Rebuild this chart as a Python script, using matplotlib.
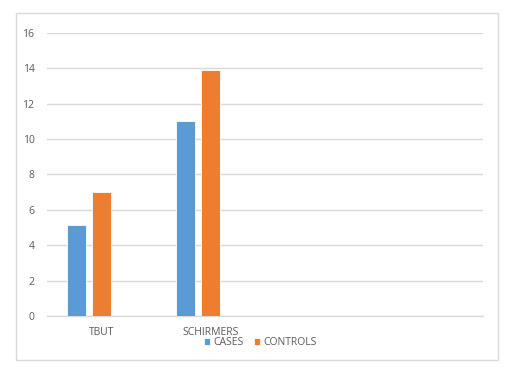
import matplotlib.pyplot as plt
import numpy as np
from matplotlib.patches import Rectangle

categories = ["TBUT", "SCHIRMERS", "", ""]
cases = [5.15, 11.0]
controls = [7.0, 13.9]
y_ticks = [0, 2, 4, 6, 8, 10, 12, 14, 16]

BLUE = "#5B9BD5"
ORANGE = "#ED7D31"
GRID = "#D9D9D9"
TEXT = "#595959"

plt.rcParams["font.family"] = ["Open Sans", "DejaVu Sans"]

fig = plt.figure(figsize=(5.15, 3.77), dpi=100)
fig.patch.set_facecolor("white")

# chart frame (Excel style border)
fig.patches.append(Rectangle((16 / 515, 1 - 360 / 377), 482 / 515, 347 / 377,
                             transform=fig.transFigure, fill=False,
                             edgecolor=GRID, linewidth=1.0))

ax = fig.add_axes([47 / 515, 1 - 316 / 377, 436 / 515, 283 / 377])

x = np.arange(len(categories))
width = 0.174
# three slots per group, third slot is empty in the source chart
offsets = [-0.229, 0.0]

ax.bar(x[:len(cases)] + offsets[0], cases, width, color=BLUE,
       edgecolor="white", linewidth=0.6, label="CASES", zorder=3)
ax.bar(x[:len(controls)] + offsets[1], controls, width, color=ORANGE,
       edgecolor="white", linewidth=0.6, label="CONTROLS", zorder=3)

ax.set_xlim(-0.5, len(categories) - 0.5)
ax.set_ylim(0, 16)
ax.set_yticks(y_ticks)
ax.set_xticks(x)
ax.set_xticklabels(categories)

ax.grid(axis="y", color=GRID, linewidth=1.0, zorder=0)
ax.set_axisbelow(True)
for side in ["top", "right", "left"]:
    ax.spines[side].set_visible(False)
ax.spines["bottom"].set_color(GRID)
ax.spines["bottom"].set_linewidth(1.0)

ax.tick_params(axis="y", length=0, pad=9, labelsize=7.5, labelcolor=TEXT)
ax.tick_params(axis="x", length=0, pad=8, labelsize=7.5, labelcolor=TEXT)

fig.legend(loc="center", bbox_to_anchor=(0.505, 1 - 342.5 / 377), ncol=2,
           frameon=False, fontsize=7.5, labelcolor=TEXT, handlelength=0.6,
           handleheight=0.6, handletextpad=0.3, columnspacing=1.0,
           borderpad=0)

fig.savefig("out.png", dpi=100)
